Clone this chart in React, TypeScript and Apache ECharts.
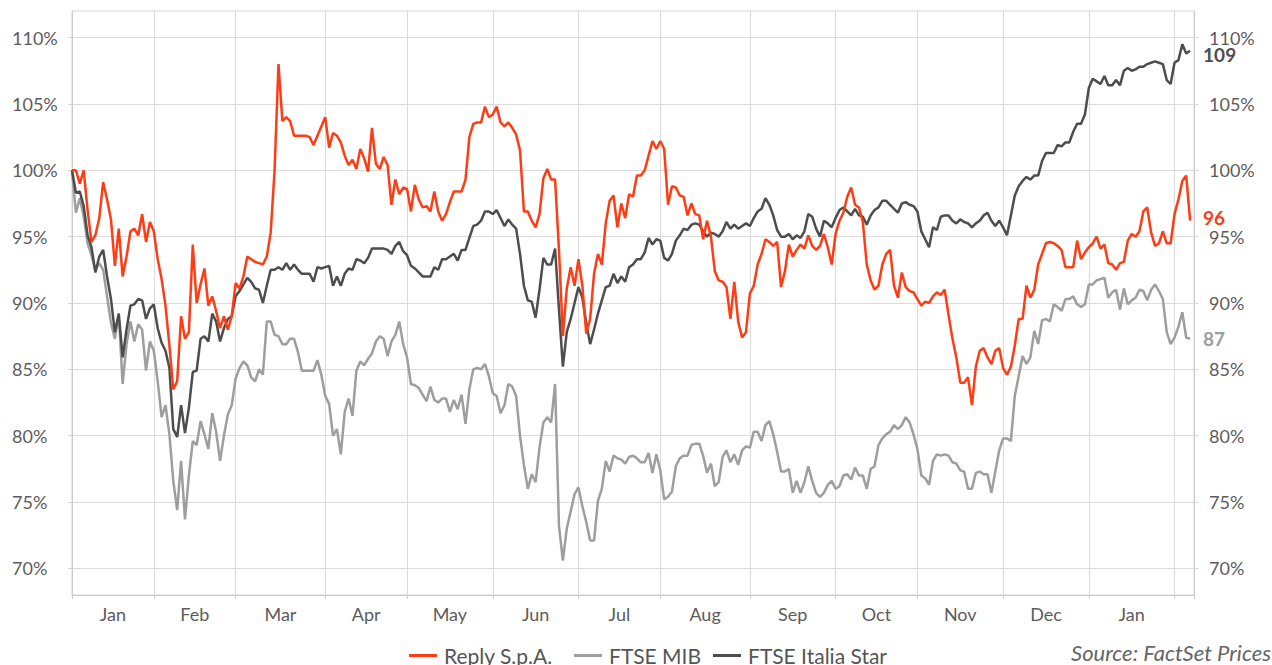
import React, { useEffect, useRef } from "react";
import * as echarts from "echarts";

// Month names shown under the axis (one per full month segment)
const monthNames = ["Jan", "Feb", "Mar", "Apr", "May", "Jun", "Jul", "Aug", "Sep", "Oct", "Nov", "Dec", "Jan"];
// Weekday index at which each month starts (Jan 2016 ... Feb 2017)
const monthStarts = [0, 21, 42, 65, 86, 108, 130, 151, 174, 196, 217, 239, 261, 283];
const xEnd = 288;
const yTicks = [70, 75, 80, 85, 90, 95, 100, 105, 110];
const seriesNames = ["Reply S.p.A.", "FTSE MIB", "FTSE Italia Star"];

// Rebased prices (%), one value per weekday
const reply = [
  100, 100, 99.0, 100, 97.0, 94.6, 95.1, 96.4, 99.1, 97.8,
  96.3, 92.8, 95.6, 92.0, 93.5, 95.4, 95.6, 95.1, 96.7, 94.6,
  96.1, 95.4, 93.3, 91.8, 89.8, 86.8, 83.5, 84.1, 89.0, 87.3,
  87.8, 94.4, 90.0, 91.4, 92.6, 89.8, 90.5, 89.4, 88.1, 89.0,
  88.0, 89.0, 91.5, 91.1, 92.0, 93.5, 93.3, 93.1, 93.0, 92.9,
  93.5, 95.3, 100.0, 108.0, 103.7, 104.0, 103.7, 102.6, 102.6, 102.6,
  102.6, 102.5, 101.9, 102.6, 103.3, 104.0, 101.7, 102.8, 102.6, 102.1,
  101.1, 100.4, 100.8, 100.1, 101.6, 100.9, 99.9, 103.2, 100.5, 100.1,
  101.0, 100.4, 97.4, 99.3, 98.2, 98.7, 98.6, 96.9, 98.9, 97.8,
  97.2, 97.3, 96.9, 98.4, 96.9, 96.2, 96.7, 97.6, 98.4, 98.4,
  98.4, 99.3, 102.5, 103.5, 103.6, 103.6, 104.8, 104.0, 104.2, 104.8,
  103.6, 103.3, 103.6, 103.2, 102.7, 101.5, 96.9, 96.9, 96.2, 95.7,
  96.7, 99.4, 100.1, 99.3, 99.3, 94.0, 87.5, 91.1, 92.7, 91.3,
  93.3, 91.3, 87.7, 88.8, 92.2, 93.7, 92.9, 96.0, 97.7, 98.1,
  95.7, 97.5, 96.4, 98.2, 98.0, 99.6, 99.6, 100.0, 101.1, 102.2,
  101.6, 102.2, 101.6, 97.4, 98.8, 98.7, 98.1, 98.0, 96.6, 97.5,
  96.7, 96.6, 94.8, 96.2, 95.0, 92.4, 91.7, 91.6, 91.2, 88.8,
  91.6, 88.6, 87.4, 87.8, 90.7, 91.3, 92.9, 93.7, 94.8, 94.6,
  94.3, 94.6, 91.2, 92.4, 94.4, 93.5, 94.0, 94.4, 94.1, 95.1,
  94.3, 94.0, 94.3, 95.2, 94.2, 92.9, 95.2, 96.2, 96.8, 98.0,
  98.7, 97.4, 97.2, 96.1, 92.9, 91.7, 91.0, 91.3, 92.9, 93.7,
  94.0, 91.3, 90.4, 92.3, 91.2, 90.9, 90.8, 90.3, 89.8, 90.1,
  90.0, 90.5, 90.8, 90.6, 91.0, 89.1, 87.3, 85.9, 84.0, 84.0,
  84.4, 82.3, 85.2, 86.4, 86.6, 85.9, 85.4, 86.4, 86.6, 85.1,
  84.6, 85.2, 86.8, 88.8, 88.8, 91.3, 90.4, 91.0, 92.9, 93.7,
  94.5, 94.6, 94.5, 94.3, 94.0, 92.7, 92.7, 92.7, 94.7, 93.3,
  93.8, 94.2, 94.5, 95.0, 94.1, 94.4, 93.0, 92.9, 92.5, 93.0,
  93.1, 94.7, 95.2, 95.0, 95.4, 96.9, 97.2, 95.3, 94.3, 94.5,
  95.4, 94.5, 94.5, 96.7, 97.8, 99.2, 99.6, 96.2,
];

const ftseMib = [
  100, 96.8, 97.9, 96.5, 94.5, 93.6, 92.5, 93.0, 92.5, 90.5,
  88.5, 87.3, 89.1, 83.9, 86.9, 88.6, 87.1, 88.4, 88.0, 84.9,
  87.1, 86.4, 84.1, 81.4, 82.3, 80.1, 76.6, 74.4, 78.1, 73.7,
  77.0, 79.6, 79.3, 81.1, 80.1, 79.0, 81.7, 80.3, 78.1, 80.0,
  81.6, 82.3, 84.3, 85.1, 85.6, 85.3, 84.4, 84.1, 85.0, 84.6,
  88.6, 88.6, 87.6, 87.5, 86.9, 86.9, 87.3, 87.3, 86.3, 84.9,
  84.9, 84.9, 84.9, 85.7, 84.6, 83.0, 82.4, 80.0, 80.5, 78.6,
  81.8, 82.8, 81.5, 84.9, 85.6, 85.3, 85.8, 86.2, 87.1, 87.5,
  87.3, 86.0, 87.1, 87.6, 88.6, 86.9, 85.9, 83.9, 83.8, 83.6,
  83.1, 82.6, 83.7, 82.7, 82.5, 82.8, 82.8, 81.8, 82.7, 82.0,
  83.1, 80.9, 83.5, 85.0, 85.1, 85.0, 85.4, 84.5, 83.2, 83.0,
  81.7, 82.3, 83.9, 83.7, 83.0, 80.0, 77.8, 76.0, 77.1, 76.5,
  79.1, 81.0, 81.4, 81.0, 83.9, 73.2, 70.6, 73.0, 74.3, 75.6,
  76.1, 74.7, 73.5, 72.1, 72.1, 75.1, 76.0, 78.1, 77.3, 78.5,
  78.3, 78.2, 77.9, 78.4, 78.5, 78.3, 78.0, 78.0, 78.7, 77.2,
  78.6, 77.4, 75.2, 75.4, 75.8, 77.7, 78.3, 78.5, 78.5, 79.3,
  79.4, 79.4, 78.5, 77.2, 77.9, 76.2, 76.5, 78.4, 78.9, 78.0,
  78.6, 77.8, 78.9, 79.2, 79.1, 80.3, 80.3, 79.6, 80.8, 81.1,
  80.1, 78.8, 77.3, 77.3, 77.5, 75.7, 76.6, 75.7, 76.5, 77.7,
  76.6, 75.7, 75.4, 75.7, 76.3, 76.6, 76.0, 76.2, 77.0, 77.1,
  76.7, 77.6, 77.0, 77.0, 76.0, 77.5, 77.7, 79.3, 79.8, 80.1,
  80.3, 80.8, 80.5, 80.8, 81.4, 81.0, 80.1, 79.0, 77.0, 76.8,
  76.3, 78.1, 78.6, 78.5, 78.6, 78.5, 78.0, 77.9, 77.4, 77.3,
  76.0, 76.0, 77.2, 77.3, 77.1, 77.1, 75.7, 77.3, 78.9, 79.8,
  79.8, 79.6, 83.0, 84.5, 86.0, 85.4, 85.9, 87.9, 86.9, 88.7,
  88.8, 88.6, 89.9, 89.7, 89.4, 90.3, 90.3, 90.5, 89.9, 89.7,
  89.9, 91.4, 91.4, 91.7, 91.8, 91.9, 90.4, 90.8, 91.0, 89.5,
  91.1, 89.9, 90.2, 90.4, 91.0, 90.9, 90.2, 91.0, 91.4, 90.9,
  90.3, 87.8, 86.9, 87.4, 88.2, 89.3, 87.4, 87.3,
];

const ftseStar = [
  100, 98.3, 98.4, 97.3, 95.1, 94.2, 92.3, 93.5, 94.0, 92.0,
  90.3, 87.8, 89.2, 85.9, 88.0, 89.8, 89.9, 90.3, 90.2, 88.8,
  89.6, 89.9, 88.1, 87.0, 86.4, 85.1, 80.5, 79.9, 82.3, 80.2,
  82.1, 84.8, 84.9, 87.3, 87.5, 87.1, 89.2, 88.6, 87.1, 88.1,
  88.8, 89.0, 90.5, 90.9, 91.4, 91.9, 91.6, 91.1, 91.0, 90.0,
  91.3, 92.5, 92.5, 92.7, 92.5, 93.0, 92.5, 92.9, 92.5, 92.2,
  92.2, 92.2, 91.6, 92.7, 92.6, 92.7, 92.8, 91.3, 92.0, 91.3,
  92.2, 92.6, 92.5, 93.3, 93.2, 93.0, 93.4, 94.1, 94.1, 94.1,
  94.1, 94.0, 93.7, 94.3, 94.6, 93.9, 93.6, 92.8, 92.6, 92.3,
  92.0, 92.0, 92.0, 92.7, 92.5, 93.3, 93.3, 93.5, 93.7, 93.2,
  94.0, 94.0, 94.9, 95.8, 95.9, 96.2, 96.9, 96.9, 96.7, 97.0,
  96.4, 95.8, 96.3, 95.9, 95.6, 93.7, 91.3, 90.2, 90.1, 88.9,
  91.0, 93.4, 92.9, 92.9, 94.1, 89.5, 85.2, 87.8, 88.8, 90.0,
  91.2, 90.4, 88.5, 86.9, 88.0, 89.2, 90.2, 91.2, 91.3, 92.2,
  91.5, 92.0, 91.6, 92.7, 92.9, 93.3, 93.3, 93.8, 94.9, 94.4,
  94.8, 94.7, 93.4, 93.2, 93.7, 94.7, 95.1, 95.6, 95.5, 95.9,
  96.0, 95.9, 95.4, 95.0, 95.3, 95.2, 95.0, 95.4, 96.1, 95.6,
  95.9, 95.6, 95.8, 96.0, 95.8, 96.4, 96.9, 97.1, 97.9, 97.4,
  96.6, 95.5, 95.0, 95.0, 95.2, 94.8, 95.1, 94.9, 95.4, 96.7,
  96.5, 95.6, 95.0, 96.2, 96.0, 95.7, 96.4, 97.0, 97.2, 96.9,
  96.6, 97.1, 96.6, 96.5, 95.9, 96.6, 97.0, 97.2, 97.7, 97.7,
  97.4, 97.1, 96.8, 97.5, 97.6, 97.4, 97.3, 96.9, 95.4, 94.8,
  94.2, 95.7, 95.5, 96.5, 96.6, 96.6, 96.2, 96.0, 96.3, 96.1,
  96.0, 95.7, 96.0, 96.2, 96.6, 96.8, 96.2, 95.8, 96.2, 95.7,
  95.1, 96.6, 98.1, 98.8, 99.2, 99.5, 99.3, 99.6, 99.6, 100.7,
  101.3, 101.3, 101.3, 101.9, 101.8, 102.1, 102.1, 102.9, 103.5, 103.5,
  104.2, 106.2, 106.9, 106.7, 106.5, 107.1, 106.4, 106.4, 106.8, 106.4,
  107.5, 107.7, 107.5, 107.6, 107.8, 107.8, 108.0, 108.1, 108.2, 108.1,
  108.0, 106.8, 106.5, 108.1, 108.3, 109.5, 108.8, 109.0,
];

const FONT = "Lato, 'Open Sans', sans-serif";
const RED = "#ff3c14";
const MIB_GRAY = "#9e9e9e";
const STAR_DARK = "#4d4d4d";
const LABEL = "#5c5c5c";

export default function App() {
  const ref = useRef<HTMLDivElement>(null);

  useEffect(() => {
    document.body.style.margin = "0";
    if (!ref.current) return;
    const chart = echarts.init(ref.current, null, { renderer: "svg" });

    const mids = monthNames.map((_, i) => (monthStarts[i] + monthStarts[i + 1]) / 2);
    const toPairs = (arr: number[]) => arr.map((v, i) => [i, v]);

    const endLabel = (color: string, dy: number) => ({
      show: true,
      formatter: (p: any) => String(Math.round(p.value[1])),
      color,
      fontWeight: "bold" as const,
      fontSize: 19,
      lineHeight: 15,
      fontFamily: FONT,
      distance: 13,
      offset: [0, dy],
    });

    const yAxisBase = {
      type: "value" as const,
      min: 68,
      max: 112,
      axisLine: { show: true, lineStyle: { color: "#cccccc", width: 1 } },
      axisTick: { show: true, length: 4, customValues: yTicks, lineStyle: { color: "#d6d6d6" } },
      splitLine: { show: true, lineStyle: { color: "#dadada", width: 1 } },
    };

    const legendLefts = [409, 574, 713];
    const legends = seriesNames.map((name, i) => ({
      left: legendLefts[i],
      top: 645,
      padding: 0,
      icon: "rect",
      itemWidth: 28,
      itemHeight: 3,
      data: [name],
      textStyle: { fontSize: 21, color: "#555555", fontFamily: FONT, padding: [0, 0, 0, 2] },
    }));

    chart.setOption({
      animation: false,
      grid: { left: 72, right: 78, top: 11, bottom: 70, show: true, borderColor: "#d6d6d6", borderWidth: 1 },
      legend: legends,
      xAxis: {
        type: "value",
        min: 0,
        max: xEnd,
        axisLine: { show: true, lineStyle: { color: "#cccccc", width: 1 } },
        axisTick: { show: true, length: 4, customValues: [...monthStarts, xEnd], lineStyle: { color: "#cccccc" } },
        splitLine: { show: true, lineStyle: { color: "#dadada", width: 1 } },
        axisLabel: {
          customValues: mids,
          margin: 10,
          fontSize: 18,
          color: LABEL,
          fontFamily: FONT,
          formatter: (val: number) => {
            const i = mids.findIndex((m) => Math.abs(m - val) < 0.01);
            return i >= 0 ? monthNames[i] : "";
          },
        },
      },
      yAxis: [
        {
          ...yAxisBase,
          position: "left",
          axisLabel: {
            customValues: yTicks,
            formatter: (v: number) => v + "%",
            fontSize: 18,
            color: LABEL,
            fontFamily: FONT,
            align: "left",
            margin: 60,
          },
        },
        {
          ...yAxisBase,
          position: "right",
          splitLine: { show: false },
          axisLabel: {
            customValues: yTicks,
            formatter: (v: number) => v + "%",
            fontSize: 18,
            lineHeight: 16,
            color: LABEL,
            fontFamily: FONT,
            margin: 15,
          },
        },
      ],
      series: [
        {
          name: seriesNames[0],
          type: "line",
          data: toPairs(reply),
          showSymbol: false,
          z: 5,
          lineStyle: { color: RED, width: 2.5 },
          itemStyle: { color: RED },
          endLabel: endLabel(RED, -3.5),
        },
        {
          name: seriesNames[1],
          type: "line",
          data: toPairs(ftseMib),
          showSymbol: false,
          z: 3,
          lineStyle: { color: MIB_GRAY, width: 2.5 },
          itemStyle: { color: MIB_GRAY },
          endLabel: endLabel(MIB_GRAY, 0),
        },
        {
          name: seriesNames[2],
          type: "line",
          data: toPairs(ftseStar),
          showSymbol: false,
          z: 4,
          lineStyle: { color: STAR_DARK, width: 2.5 },
          itemStyle: { color: STAR_DARK },
          endLabel: endLabel(STAR_DARK, 4),
        },
      ],
      graphic: [
        {
          type: "text",
          right: 1,
          top: 641,
          style: {
            text: "Source: FactSet Prices",
            font: "italic 22px " + FONT,
            fill: "#666666",
          },
        },
      ],
    });

    return () => chart.dispose();
  }, []);

  return <div ref={ref} style={{ width: 1272, height: 665 }} />;
}
